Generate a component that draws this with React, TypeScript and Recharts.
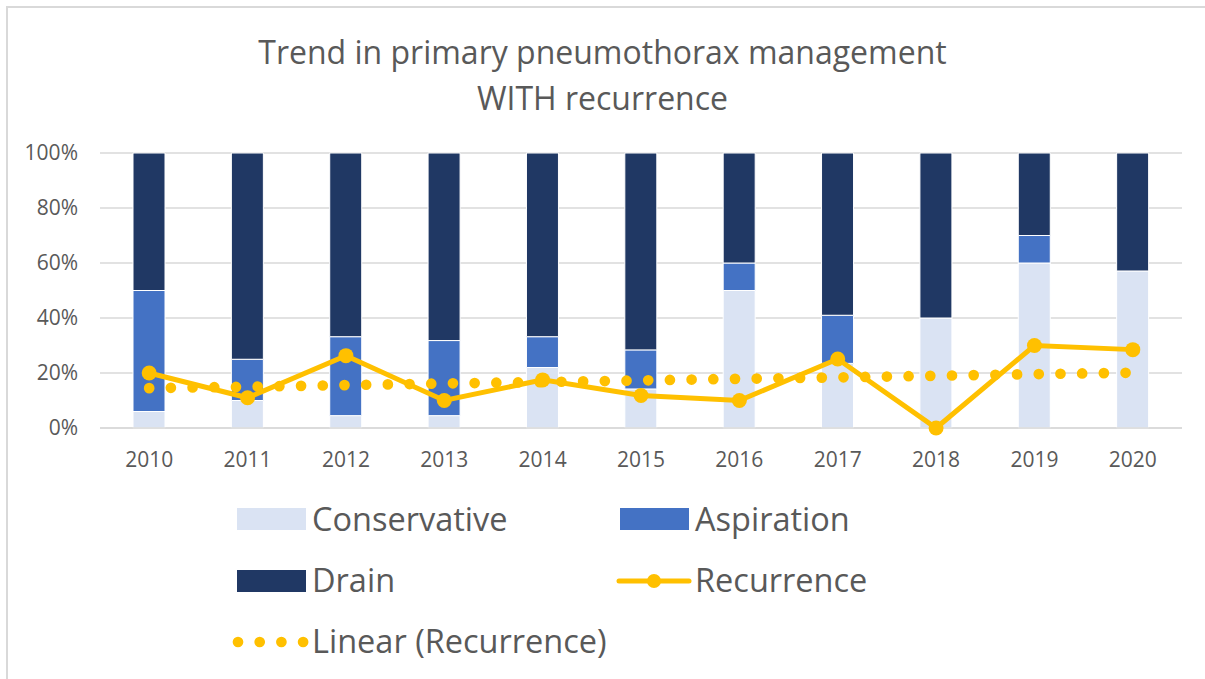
import React from 'react';
import { ComposedChart, Bar, Line, XAxis, YAxis, CartesianGrid } from 'recharts';

const years = ['2010', '2011', '2012', '2013', '2014', '2015', '2016', '2017', '2018', '2019', '2020'];
const conservative = [6, 10, 4.5, 4.5, 22, 14.2, 50, 23.5, 40, 60, 57.1];
const aspiration = [44, 15, 28.7, 27.3, 11.2, 14.2, 10, 17.5, 0, 10, 0];
const drain = [50, 75, 66.8, 68.2, 66.8, 71.6, 40, 59, 60, 30, 42.9];
const recurrence = [20, 11, 26.3, 10, 17.5, 11.8, 10, 25.1, 0, 30, 28.5];
const recurrenceTrend = [14.5, 15.0, 15.6, 16.2, 16.7, 17.3, 17.9, 18.4, 19.0, 19.6, 20.1];
const yTicks = [0, 20, 40, 60, 80, 100];

const data = years.map((year, i) => ({
  year,
  Conservative: conservative[i],
  Aspiration: aspiration[i],
  Drain: drain[i],
  Recurrence: recurrence[i],
  Trend: recurrenceTrend[i],
}));

const FONT = '"Open Sans", sans-serif';
const TEXT = '#595959';
const GOLD = '#ffc000';

function LegendBox() {
  const label: React.CSSProperties = { position: 'absolute', fontSize: 32.5, color: TEXT, fontFamily: FONT, lineHeight: '40px', whiteSpace: 'nowrap' };
  const swatch = (left: number, top: number, color: string) => (
    <div style={{ position: 'absolute', left, top, width: 69, height: 22, background: color }} />
  );
  return (
    <div style={{ position: 'absolute', left: 0, top: 490, width: 1205, height: 180 }}>
      {swatch(237, 18, '#dae3f3')}
      <div style={{ ...label, left: 312, top: 9 }}>Conservative</div>
      {swatch(620, 18, '#4472c4')}
      <div style={{ ...label, left: 695, top: 9 }}>Aspiration</div>
      {swatch(237, 80, '#203864')}
      <div style={{ ...label, left: 312, top: 70 }}>Drain</div>
      <svg style={{ position: 'absolute', left: 616, top: 80 }} width={76} height={22}>
        <line x1={3} y1={11} x2={73} y2={11} stroke={GOLD} strokeWidth={5} strokeLinecap="round" />
        <circle cx={38} cy={11} r={7} fill={GOLD} />
      </svg>
      <div style={{ ...label, left: 695, top: 70 }}>Recurrence</div>
      <svg style={{ position: 'absolute', left: 228, top: 141 }} width={84} height={22}>
        <line x1={10} y1={11} x2={76} y2={11} stroke={GOLD} strokeWidth={10.7} strokeLinecap="round" strokeDasharray="0 21.7" />
      </svg>
      <div style={{ ...label, left: 312, top: 131 }}>Linear (Recurrence)</div>
    </div>
  );
}

export default function App() {
  return (
    <div style={{ position: 'absolute', left: 0, top: 0, width: 1205, height: 679, overflow: 'hidden', background: '#fff', fontFamily: FONT }}>
      <div style={{ position: 'absolute', left: 6, top: 6, width: 1300, height: 800, border: '2px solid #d9d9d9' }} />
      <div style={{ position: 'absolute', left: 0, top: 29, width: 1205, textAlign: 'center', color: TEXT, fontSize: 32, lineHeight: '46px', fontWeight: 400 }}>
        Trend in primary pneumothorax management
        <br />
        WITH recurrence
      </div>
      <div style={{ position: 'absolute', left: 0, top: 0 }}>
        <ComposedChart width={1205} height={679} data={data} margin={{ top: 153, right: 23, left: 0, bottom: 221 }}>
          <CartesianGrid vertical={false} stroke="#d9d9d9" strokeWidth={1.3} />
          <XAxis
            dataKey="year"
            height={30}
            axisLine={{ stroke: '#d9d9d9', strokeWidth: 1.3 }}
            tickLine={false}
            tickSize={0}
            tickMargin={24}
            tick={{ fill: TEXT, fontSize: 21, fontFamily: FONT }}
          />
          <YAxis
            width={100}
            domain={[0, 100]}
            ticks={yTicks}
            tickFormatter={(v: number) => `${v}%`}
            axisLine={false}
            tickLine={false}
            tickSize={0}
            tickMargin={22}
            tick={{ fill: TEXT, fontSize: 21, fontFamily: FONT }}
          />
          <Bar dataKey="Conservative" stackId="a" fill="#dae3f3" stroke="#ffffff" strokeWidth={1} barSize={32} isAnimationActive={false} />
          <Bar dataKey="Aspiration" stackId="a" fill="#4472c4" stroke="#ffffff" strokeWidth={1} barSize={32} isAnimationActive={false} />
          <Bar dataKey="Drain" stackId="a" fill="#203864" stroke="#ffffff" strokeWidth={1} barSize={32} isAnimationActive={false} />
          <Line
            dataKey="Trend"
            name="Linear (Recurrence)"
            stroke={GOLD}
            strokeWidth={10.7}
            strokeLinecap="round"
            strokeDasharray="0 21.7"
            dot={false}
            activeDot={false}
            isAnimationActive={false}
          />
          <Line
            dataKey="Recurrence"
            stroke={GOLD}
            strokeWidth={5}
            dot={{ r: 7.5, fill: GOLD, stroke: 'none' }}
            activeDot={false}
            isAnimationActive={false}
          />
        </ComposedChart>
      </div>
      <LegendBox />
    </div>
  );
}
